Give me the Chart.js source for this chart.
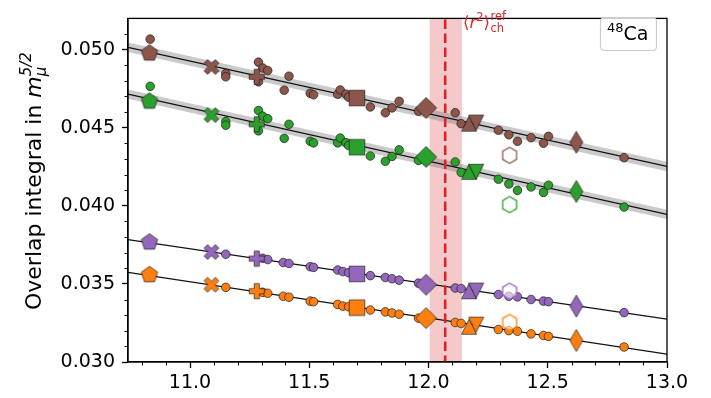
<!DOCTYPE html>
<html>
<head>
<meta charset="utf-8">
<script src="https://cdn.jsdelivr.net/npm/chart.js@4"></script>
<style>
  html, body { margin: 0; padding: 0; background: #fff; }
</style>
</head>
<body>
<canvas id="grafico" width="711" height="398"></canvas>
<script>
// ---- datos ----
const xRange = [10.74, 13.0];
const yRange = [0.030, 0.052];
const xTicks = [11.0, 11.5, 12.0, 12.5, 13.0];
const yTicks = [0.030, 0.035, 0.040, 0.045, 0.050];

const refX = 12.07;
const refBand = [12.005, 12.14];

// marcadores grandes (misma x para las cuatro series)
const bigX = [10.83, 11.09, 11.28, 11.70, 11.99, 12.17, 12.20, 12.62];
const bigShapes = ["pentagon", "x", "plus", "square", "diamond", "triUp", "triDown", "thinDiamond"];
const brownBig  = [0.04977, 0.04889, 0.04826, 0.04690, 0.04627, 0.04526, 0.04533, 0.04407];
const greenBig  = [0.04669, 0.04581, 0.04522, 0.04375, 0.04313, 0.04218, 0.04218, 0.04092];
const purpleBig = [0.03767, 0.03704, 0.03662, 0.03564, 0.03495, 0.03453, 0.03457, 0.03358];
const orangeBig = [0.03558, 0.03495, 0.03453, 0.03348, 0.03281, 0.03226, 0.03239, 0.03138];

// hexagonos huecos
const hexX = 12.34;
const hexY = [0.04323, 0.04008, 0.03453, 0.03253]; // brown, green, purple, orange

// puntos pequenos
const upperCircX = [10.833, 11.150, 11.150, 11.287, 11.305, 11.326, 11.287, 11.415, 11.395, 11.504, 11.518,
  11.619, 11.630, 11.654, 11.665, 11.756, 11.819, 11.847, 11.877, 11.958, 12.112, 12.137,
  12.293, 12.337, 12.373, 12.430, 12.482, 12.503, 12.82];
const brownCircY = [0.05067, 0.04847, 0.04826, 0.04920, 0.04882, 0.04866, 0.04794, 0.04830, 0.04740, 0.04721, 0.04711,
  0.04715, 0.04742, 0.04715, 0.04696, 0.04633, 0.04596, 0.04627, 0.04669, 0.04606, 0.04596, 0.04526,
  0.04484, 0.04455, 0.04413, 0.04436, 0.04401, 0.04445, 0.04308];
const greenCircY = [0.04765, 0.04539, 0.04516, 0.04610, 0.04574, 0.04558, 0.04480, 0.04522, 0.04432, 0.04413, 0.04403,
  0.04403, 0.04434, 0.04404, 0.04386, 0.04319, 0.04285, 0.04316, 0.04358, 0.04291, 0.04281, 0.04214,
  0.04170, 0.04140, 0.04099, 0.04121, 0.04086, 0.04132, 0.03992];

const lowerCircX = [11.150, 11.305, 11.326, 11.391, 11.415, 11.504, 11.518, 11.619, 11.641, 11.665, 11.756,
  11.819, 11.847, 11.877, 11.958, 12.112, 12.137, 12.293, 12.337, 12.373, 12.430, 12.482, 12.503, 12.82];
const purpleCircY = [0.03690, 0.03664, 0.03656, 0.03637, 0.03631, 0.03610, 0.03606, 0.03589, 0.03579, 0.03572, 0.03553,
  0.03541, 0.03533, 0.03524, 0.03505, 0.03474, 0.03470, 0.03432, 0.03421, 0.03417, 0.03400, 0.03390, 0.03386, 0.03316];
const orangeCircY = [0.03478, 0.03446, 0.03440, 0.03421, 0.03415, 0.03390, 0.03386, 0.03369, 0.03358, 0.03354, 0.03333,
  0.03321, 0.03314, 0.03306, 0.03281, 0.03253, 0.03247, 0.03208, 0.03201, 0.03197, 0.03180, 0.03170, 0.03164, 0.03096];

// rectas de ajuste (valor en xRange[0] y xRange[1])
const brownFit  = [0.05015, 0.04252];
const greenFit  = [0.04715, 0.03945];
const purpleFit = [0.03784, 0.03275];
const orangeFit = [0.03574, 0.03050];
const bandHalf = 0.0003;

const colores = { brown: "#8c564b", green: "#2ca02c", purple: "#9467bd", orange: "#ff7f0e" };
const borde = "rgba(25,25,25,0.85)";
const FONT = "'DejaVu Sans', sans-serif";

// ---- marcadores como canvas ----
function poligono(n, r, rot) {
  const pts = [];
  for (let k = 0; k < n; k++) {
    const a = rot + k * 2 * Math.PI / n;
    pts.push([r * Math.cos(a), r * Math.sin(a)]);
  }
  return pts;
}
function cruz(e, a, giro) {
  const base = [[-a, -e], [a, -e], [a, -a], [e, -a], [e, a], [a, a], [a, e], [-a, e], [-a, a], [-e, a], [-e, -a], [-a, -a]];
  const c = Math.cos(giro), s = Math.sin(giro);
  return base.map(([x, y]) => [x * c - y * s, x * s + y * c]);
}
function forma(nombre) {
  switch (nombre) {
    case "pentagon": return poligono(5, 8.6, -Math.PI / 2);
    case "hexagon": return poligono(6, 8, -Math.PI / 2);
    case "square": return [[-7.8, -7.8], [7.8, -7.8], [7.8, 7.8], [-7.8, 7.8]];
    case "diamond": return [[0, -10.5], [10.5, 0], [0, 10.5], [-10.5, 0]];
    case "thinDiamond": return [[0, -11], [6.5, 0], [0, 11], [-6.5, 0]];
    case "triUp": return [[0, -7.5], [7.5, 7.5], [-7.5, 7.5]];
    case "triDown": return [[0, 7.5], [7.5, -7.5], [-7.5, -7.5]];
    case "plus": return cruz(7.6, 2.6, 0);
    case "x": return cruz(8.0, 2.5, Math.PI / 4);
  }
}
function marcador(nombre, color, hueco) {
  const S = 30;
  const c = document.createElement("canvas");
  c.width = S; c.height = S;
  const g = c.getContext("2d");
  g.translate(S / 2, S / 2);
  g.beginPath();
  forma(nombre).forEach(([x, y], i) => i ? g.lineTo(x, y) : g.moveTo(x, y));
  g.closePath();
  if (hueco) {
    g.fillStyle = "rgba(255,255,255,0.6)";
    g.fill();
    g.strokeStyle = color;
    g.lineWidth = 1.3;
  } else {
    g.fillStyle = color;
    g.fill();
    g.strokeStyle = borde;
    g.lineWidth = 0.8;
  }
  g.stroke();
  return c;
}

// ---- datasets ----
const series = [
  { c: colores.brown,  big: brownBig,  cx: upperCircX, cy: brownCircY,  fit: brownFit,  hex: hexY[0], band: true },
  { c: colores.green,  big: greenBig,  cx: upperCircX, cy: greenCircY,  fit: greenFit,  hex: hexY[1], band: true },
  { c: colores.purple, big: purpleBig, cx: lowerCircX, cy: purpleCircY, fit: purpleFit, hex: hexY[2], band: false },
  { c: colores.orange, big: orangeBig, cx: lowerCircX, cy: orangeCircY, fit: orangeFit, hex: hexY[3], band: false }
];

const datasets = [];
series.forEach(s => {
  if (s.band) {
    datasets.push({
      data: xRange.map((x, i) => ({ x, y: s.fit[i] + bandHalf })),
      showLine: true, borderWidth: 0, pointRadius: 0, fill: false, order: 6
    });
    datasets.push({
      data: xRange.map((x, i) => ({ x, y: s.fit[i] - bandHalf })),
      showLine: true, borderWidth: 0, pointRadius: 0, fill: "-1",
      backgroundColor: "rgba(128,128,128,0.42)", order: 6
    });
  }
  datasets.push({
    data: xRange.map((x, i) => ({ x, y: s.fit[i] })),
    showLine: true, borderColor: "#111", borderWidth: 1.2, pointRadius: 0, order: 5
  });
  datasets.push({
    data: s.cx.map((x, i) => ({ x, y: s.cy[i] })),
    pointStyle: "circle", pointRadius: 4.3, backgroundColor: s.c,
    borderColor: borde, borderWidth: 0.8, order: 3
  });
  datasets.push({
    data: bigX.map((x, i) => ({ x, y: s.big[i] })),
    pointStyle: bigShapes.map(n => marcador(n, s.c, false)), pointRadius: 5, order: 2
  });
  datasets.push({
    data: [{ x: hexX, y: s.hex }],
    pointStyle: marcador("hexagon", s.c, true), pointRadius: 5, order: 1
  });
});

// ---- texto con sub/superindices ----
function tramos(ctx, x, y, runs) {
  runs.forEach(r => {
    ctx.font = r.f;
    ctx.fillText(r.t, x, y + (r.dy || 0));
    if (!r.stack) x += ctx.measureText(r.t).width;
  });
  return x;
}

const decor = {
  id: "decor",
  beforeDatasetsDraw(chart) {
    const { ctx, chartArea: a, scales: { x } } = chart;
    const x0 = x.getPixelForValue(refBand[0]);
    const x1 = x.getPixelForValue(refBand[1]);
    ctx.save();
    ctx.fillStyle = "rgba(214,39,40,0.25)";
    ctx.fillRect(x0, a.top, x1 - x0, a.bottom - a.top);
    ctx.restore();
  },
  afterDraw(chart) {
    const { ctx, chartArea: a, scales: { x, y } } = chart;
    ctx.save();

    // linea de referencia
    const xr = x.getPixelForValue(refX);
    ctx.strokeStyle = "#d62728";
    ctx.lineWidth = 2.6;
    ctx.setLineDash([9.5, 4.5]);
    ctx.beginPath();
    ctx.moveTo(xr, a.top + 1);
    ctx.lineTo(xr, a.bottom);
    ctx.stroke();
    ctx.setLineDash([]);

    // marco
    ctx.strokeStyle = "#000";
    ctx.lineWidth = 1.3;
    ctx.strokeRect(a.left, a.top, a.right - a.left, a.bottom - a.top);

    // ticks menores
    ctx.lineWidth = 1;
    ctx.beginPath();
    for (let k = 108; k <= 129; k++) {
      if (k % 5 === 0) continue;
      const px = Math.round(x.getPixelForValue(k / 10)) + 0.5;
      ctx.moveTo(px, a.bottom); ctx.lineTo(px, a.bottom + 3.5);
    }
    for (let k = 31; k <= 51; k++) {
      if (k % 5 === 0) continue;
      const py = Math.round(y.getPixelForValue(k / 1000)) + 0.5;
      ctx.moveTo(a.left, py); ctx.lineTo(a.left - 3.5, py);
    }
    ctx.stroke();

    // titulo eje y
    ctx.fillStyle = "#000";
    ctx.textBaseline = "alphabetic";
    ctx.save();
    ctx.translate(41, 310);
    ctx.rotate(-Math.PI / 2);
    tramos(ctx, 0, 0, [
      { t: "Overlap integral in ", f: "22px " + FONT },
      { t: "m", f: "italic 22px " + FONT },
      { t: "\u03bc", f: "italic 15px " + FONT, dy: 5, stack: true },
      { t: "5/2", f: "italic 15px " + FONT, dy: -10 }
    ]);
    ctx.restore();

    // etiqueta roja
    ctx.fillStyle = "#d62728";
    let xt = tramos(ctx, 463, 28, [
      { t: "\u27e8", f: "16.5px " + FONT },
      { t: "r", f: "italic 16.5px " + FONT },
      { t: "2", f: "11.5px " + FONT, dy: -7 },
      { t: "\u27e9", f: "16.5px " + FONT }
    ]);
    tramos(ctx, xt + 0.5, 28, [
      { t: "ref", f: "11.5px " + FONT, dy: -8, stack: true },
      { t: "ch", f: "11.5px " + FONT, dy: 4 }
    ]);

    // caja 48Ca
    ctx.fillStyle = "rgba(255,255,255,0.8)";
    ctx.strokeStyle = "#cccccc";
    ctx.lineWidth = 1.2;
    ctx.beginPath();
    ctx.roundRect(600.5, 17.5, 56, 33, 4);
    ctx.fill();
    ctx.stroke();
    ctx.fillStyle = "#000";
    tramos(ctx, 607, 40, [
      { t: "48", f: "13px " + FONT, dy: -8 },
      { t: "Ca", f: "19px " + FONT }
    ]);

    ctx.restore();
  }
};

Chart.defaults.font.family = FONT;
Chart.defaults.color = "#000";

new Chart(document.getElementById("grafico"), {
  type: "scatter",
  data: { datasets },
  options: {
    responsive: false,
    devicePixelRatio: 1,
    animation: false,
    events: [],
    layout: { padding: { left: 0, right: 44, top: 12, bottom: 0 } },
    plugins: { legend: { display: false }, tooltip: { enabled: false } },
    scales: {
      x: {
        type: "linear", min: xRange[0], max: xRange[1],
        afterBuildTicks: s => { s.ticks = xTicks.map(v => ({ value: v })); },
        afterFit: s => { s.height = 36; },
        ticks: { font: { size: 19 }, padding: 4, maxRotation: 0, callback: v => v.toFixed(1) },
        grid: { drawOnChartArea: false, drawTicks: true, tickLength: 6, tickWidth: 1.3, tickColor: "#000" },
        border: { display: true, color: "#000", width: 1.3 }
      },
      y: {
        type: "linear", min: yRange[0], max: yRange[1],
        afterBuildTicks: s => { s.ticks = yTicks.map(v => ({ value: v })); },
        afterFit: s => { s.width = 128; },
        ticks: { font: { size: 19 }, padding: 7, callback: v => v.toFixed(3) },
        grid: { drawOnChartArea: false, drawTicks: true, tickLength: 6, tickWidth: 1.3, tickColor: "#000" },
        border: { display: true, color: "#000", width: 1.3 }
      }
    }
  },
  plugins: [decor]
});
</script>
</body>
</html>
